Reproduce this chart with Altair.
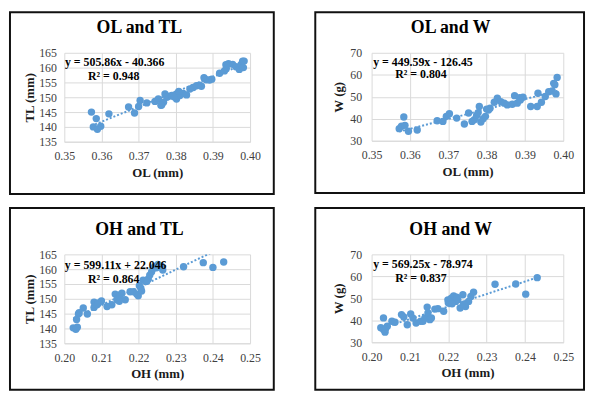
import altair as alt
import pandas as pd

BLUE = "#5B9BD5"
FONT = "Liberation Serif"
GRID = "#D9D9D9"

# ---- data ----
ol_1 = [0.3573, 0.3586, 0.3578, 0.3589, 0.3598, 0.3620, 0.3673, 0.3689, 0.3700, 0.3704,
        0.3722, 0.3744, 0.3753, 0.3762, 0.3767, 0.3771, 0.3776, 0.3781, 0.3789, 0.3802,
        0.3802, 0.3811, 0.3820, 0.3829, 0.3838, 0.3847, 0.3856, 0.3864, 0.3869, 0.3876,
        0.3882, 0.3891, 0.3897, 0.3918, 0.3931, 0.3936, 0.3942, 0.3953, 0.3962, 0.3971,
        0.3976, 0.3980, 0.3984, 0.3982, 0.3760, 0.3795, 0.3808, 0.3935]
tl_1 = [145.0, 142.8, 140.0, 139.2, 140.2, 144.4, 146.7, 144.7, 146.9, 148.9,
        148.1, 148.6, 149.4, 147.4, 148.3, 151.1, 150.0, 150.3, 150.6, 149.4,
        151.1, 150.6, 151.3, 150.8, 152.8, 153.3, 153.9, 154.1, 153.7, 156.6,
        155.9, 155.8, 156.1, 158.1, 158.9, 159.7, 161.3, 161.1, 160.3, 159.4,
        161.1, 162.2, 162.2, 160.0, 147.3, 150.2, 152.0, 161.0]

ol_2 = [0.3572, 0.3578, 0.3584, 0.3587, 0.3596, 0.3619, 0.3671, 0.3686, 0.3695, 0.3703,
        0.3722, 0.3742, 0.3753, 0.3762, 0.3768, 0.3774, 0.3781, 0.3785, 0.3791, 0.3797,
        0.3800, 0.3809, 0.3820, 0.3828, 0.3837, 0.3846, 0.3854, 0.3867, 0.3873, 0.3880,
        0.3886, 0.3895, 0.3915, 0.3932, 0.3934, 0.3943, 0.3953, 0.3962, 0.3971, 0.3975,
        0.3981, 0.3984, 0.3778, 0.3805, 0.3888, 0.3978]
w_2 = [35.5, 36.6, 40.8, 37.0, 34.3, 34.9, 39.1, 38.8, 41.1, 42.3,
       40.3, 37.6, 42.6, 38.8, 39.6, 41.5, 45.6, 38.5, 40.0, 41.1,
       44.4, 44.8, 47.5, 49.3, 47.8, 47.1, 46.3, 46.6, 50.5, 47.1,
       49.6, 49.8, 45.6, 45.6, 51.6, 47.5, 50.1, 52.3, 52.6, 56.1,
       51.3, 58.8, 42.8, 44.0, 48.5, 55.5]

oh_3 = [0.2024, 0.2031, 0.2035, 0.2033, 0.2038, 0.2051, 0.2062, 0.2080, 0.2080, 0.2088,
        0.2100, 0.2115, 0.2128, 0.2137, 0.2142, 0.2146, 0.2150, 0.2155, 0.2164, 0.2177,
        0.2186, 0.2195, 0.2199, 0.2202, 0.2206, 0.2212, 0.2219, 0.2226, 0.2230, 0.2235,
        0.2239, 0.2243, 0.2252, 0.2261, 0.2265, 0.2321, 0.2374, 0.2400, 0.2429,
        0.2040, 0.2092, 0.2148, 0.2208, 0.2222, 0.2248]
tl_3 = [140.2, 139.7, 140.4, 143.0, 144.9, 146.9, 144.9, 148.9, 147.1, 148.0,
        149.3, 147.4, 148.0, 151.6, 149.7, 150.4, 151.3, 151.9, 149.7, 152.4,
        152.4, 151.6, 151.0, 154.4, 153.6, 156.3, 155.8, 156.7, 158.0, 159.1,
        160.2, 160.8, 161.6, 161.1, 159.7, 160.8, 162.2, 160.6, 162.4,
        145.3, 148.6, 149.2, 152.6, 155.9, 160.5]

oh_4 = [0.2024, 0.2031, 0.2035, 0.2031, 0.2041, 0.2053, 0.2061, 0.2078, 0.2084, 0.2093,
        0.2102, 0.2116, 0.2128, 0.2134, 0.2139, 0.2145, 0.2147, 0.2152, 0.2156, 0.2165,
        0.2173, 0.2188, 0.2199, 0.2203, 0.2208, 0.2214, 0.2219, 0.2225, 0.2231, 0.2238,
        0.2245, 0.2253, 0.2259, 0.2266, 0.2322, 0.2376, 0.2402, 0.2432,
        0.2036, 0.2108, 0.2200, 0.2210, 0.2222, 0.2240]
w_4 = [36.6, 35.8, 34.6, 41.1, 37.3, 39.6, 39.1, 42.6, 41.5, 38.0,
       42.9, 38.8, 39.6, 39.6, 41.1, 46.0, 43.3, 40.3, 41.1, 45.1,
       45.3, 44.1, 49.3, 47.8, 50.1, 51.1, 48.6, 49.3, 45.6, 51.6,
       46.3, 48.6, 50.8, 52.8, 56.4, 56.5, 51.9, 59.4,
       36.0, 41.0, 48.0, 47.5, 50.5, 47.3]

titles = ["OL and TL", "OL and W", "OH and TL", "OH and W"]
x_titles = ["OL (mm)", "OL (mm)", "OH (mm)", "OH (mm)"]
y_titles = ["TL (mm)", "W (g)", "TL (mm)", "W (g)"]
slopes = [505.86, 449.59, 599.11, 569.25]
intercepts = [-40.366, -126.45, 22.046, -78.974]
equations = ["y = 505.86x - 40.366", "y = 449.59x - 126.45",
             "y = 599.11x + 22.046", "y = 569.25x - 78.974"]
r2_texts = ["R² = 0.948", "R² = 0.804", "R² = 0.864", "R² = 0.837"]
ol_ticks = [0.35, 0.36, 0.37, 0.38, 0.39, 0.40]
oh_ticks = [0.20, 0.21, 0.22, 0.23, 0.24, 0.25]
tl_ticks = [135, 140, 145, 150, 155, 160, 165]
w_ticks = [30, 40, 50, 60, 70]


def panel(xs, ys, i, xticks, yticks, w, h, box, lab_pad, ytp, title_x, eq_pos):
    df = pd.DataFrame({"x": xs, "y": ys})
    xsc = alt.Scale(domain=[xticks[0], xticks[-1]], nice=False, zero=False)
    ysc = alt.Scale(domain=[yticks[0], yticks[-1]], nice=False, zero=False)
    xaxis = alt.Axis(values=xticks, format=".2f", labelFont=FONT, labelFontSize=12,
                     labelColor="#404040", labelPadding=9, labelFlush=False,
                     labelOverlap=False, titleFont=FONT, titleFontSize=13,
                     titleFontWeight="bold", titleColor="#1a1a1a", titlePadding=5,
                     grid=True, gridColor=GRID, domainColor=GRID, ticks=False)
    yaxis = alt.Axis(values=yticks, labelFont=FONT, labelFontSize=12,
                     labelColor="#404040", labelPadding=lab_pad, labelFlush=False,
                     labelOverlap=False, titleFont=FONT, titleFontSize=13,
                     titleFontWeight="bold", titleColor="#1a1a1a", titlePadding=ytp,
                     grid=True, gridColor=GRID, domain=False, ticks=False)
    X = alt.X("x:Q", scale=xsc, axis=xaxis, title=x_titles[i])
    Y = alt.Y("y:Q", scale=ysc, axis=yaxis, title=y_titles[i])

    L, R, T, B = box
    border = alt.Chart(pd.DataFrame({"a": [0]})).mark_rect(
        fill="white", fillOpacity=0, stroke="#111111", strokeWidth=2
    ).encode(x=alt.value(-L), x2=alt.value(w + R), y=alt.value(-T), y2=alt.value(h + B))

    x0, x1 = min(xs), max(xs)
    tdf = pd.DataFrame({"x": [x0, x1],
                        "y": [slopes[i] * x0 + intercepts[i], slopes[i] * x1 + intercepts[i]]})
    trend = alt.Chart(tdf).mark_line(color=BLUE, strokeWidth=2, strokeDash=[2, 2],
                                     clip=True).encode(x=X, y=Y)
    pts = alt.Chart(df).mark_circle(size=56, color=BLUE, opacity=1).encode(x=X, y=Y)

    (ex, ey), (rx, ry) = eq_pos
    eq = alt.Chart(pd.DataFrame({"t": [equations[i]]})).mark_text(
        font=FONT, fontSize=12, fontWeight="bold", color="black", align="center",
        baseline="middle").encode(x=alt.value(ex), y=alt.value(ey), text="t:N")
    r2 = alt.Chart(pd.DataFrame({"t": [r2_texts[i]]})).mark_text(
        font=FONT, fontSize=12, fontWeight="bold", color="black", align="center",
        baseline="middle").encode(x=alt.value(rx), y=alt.value(ry), text="t:N")
    ttl = alt.Chart(pd.DataFrame({"t": [titles[i]]})).mark_text(
        font=FONT, fontSize=18, fontWeight="bold", color="black", align="center",
        baseline="alphabetic").encode(x=alt.value(title_x), y=alt.value(-20), text="t:N")

    return alt.layer(border, trend, pts, eq, r2, ttl).properties(width=w, height=h)


p1 = panel(ol_1, tl_1, 0, ol_ticks, tl_ticks, 188, 90, (55, 24, 41, 53), 8, 2, 76,
           ((51, 9.5), (50, 23.5)))
p2 = panel(ol_2, w_2, 1, ol_ticks, w_ticks, 194, 89, (57, 21, 41, 53), 10, 4, 80,
           ((52, 9), (50, 22)))
p3 = panel(oh_3, tl_3, 2, oh_ticks, tl_ticks, 188, 90, (55, 24, 47, 47), 8, 2, 76,
           ((52, 11), (50, 24.5)))
p4 = panel(oh_4, w_4, 3, oh_ticks, w_ticks, 194, 89, (57, 21, 47, 48), 10, 4, 80,
           ((52, 10), (50, 23.5)))

chart = alt.vconcat(
    alt.hconcat(p1, p2, spacing=38),
    alt.hconcat(p3, p4, spacing=38),
    spacing=10,
).properties(padding=0).configure_view(stroke="transparent")

chart.save("out.html", embed_options={"renderer": "svg", "actions": False})
